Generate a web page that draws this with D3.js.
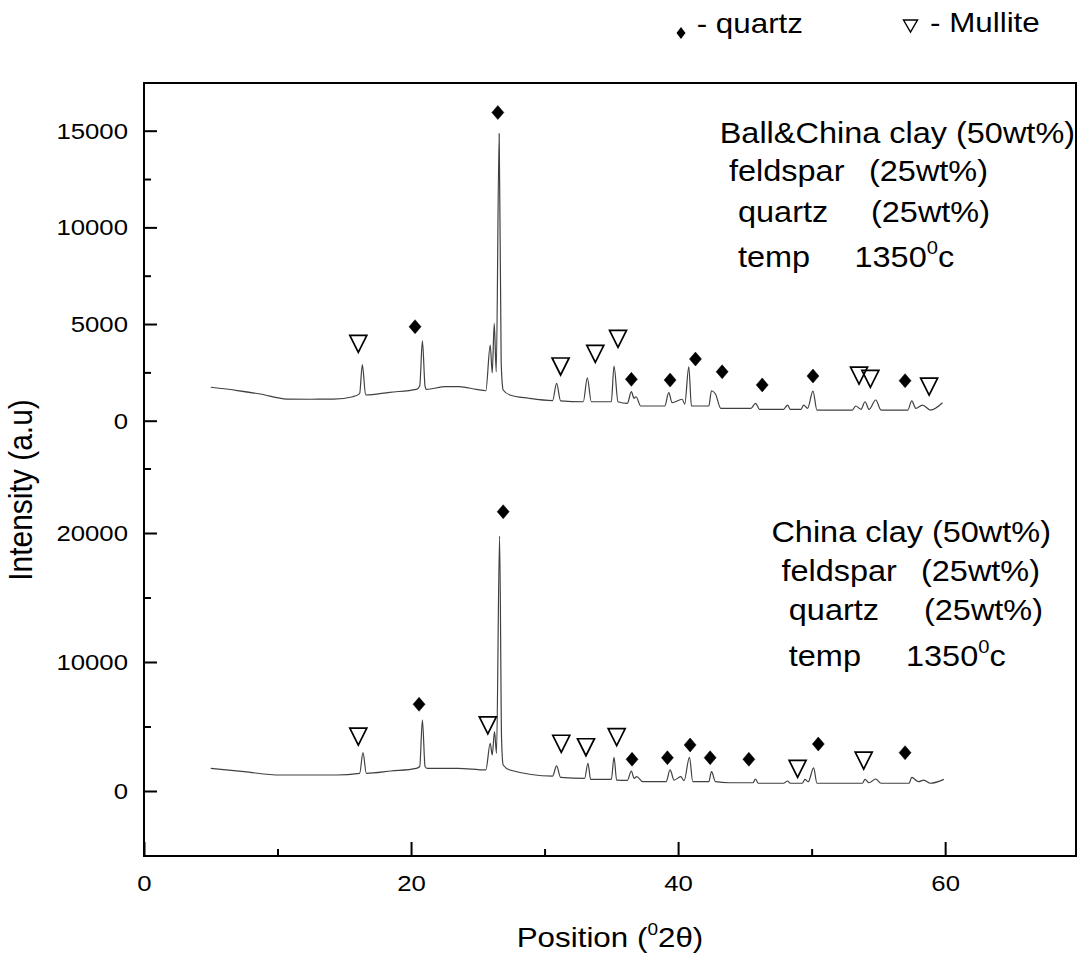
<!DOCTYPE html>
<html>
<head>
<meta charset="utf-8">
<script src="https://d3js.org/d3.v7.min.js"></script>
<style>
    body { margin: 0; background: #fff; }
    text { font-family: "Liberation Sans", Arial, sans-serif; fill: #000; }
</style>
</head>
<body>
<div id="cont"></div>
<script>
// ---- data: [2theta, intensity] ----
var topPattern = [
    [5.0,1730],[7.0,1560],[8.7,1380],[10.7,1120],[12.5,1110],[14.2,1120],[15.65,1240],
    [16.15,1400],[16.35,2900],[16.6,1330],[18.4,1470],[20.4,1620],[20.65,1800],[20.85,4130],
    [21.05,1780],[21.15,1620],[22.6,1760],[23.6,1760],[24.9,1620],[25.6,1550],[25.93,3910],
    [26.08,2470],[26.23,5030],[26.38,2530],[26.6,14850],[26.75,3000],[26.9,1590],[27.4,1330],
    [28.8,1160],[30.6,1040],[30.9,1930],[31.2,1030],[32.9,980],[33.2,2220],[33.5,980],
    [35.0,980],[35.2,2830],[35.5,980],[36.2,900],[36.5,1500],[36.7,1160],[36.85,1240],
    [37.2,760],[39.0,760],[39.3,1450],[39.55,930],[40.3,1110],[40.5,860],[40.8,2790],
    [41.0,760],[42.3,760],[42.5,1550],[42.8,1380],[43.2,640],[45.45,640],[45.8,900],
    [46.1,590],[47.9,590],[48.2,810],[48.4,590],[49.2,590],[49.4,810],[49.7,640],[50.1,1530],
    [50.4,550],[53.05,550],[53.3,760],[53.7,590],[54.0,980],[54.3,590],[54.8,1070],[55.2,550],
    [57.2,550],[57.5,1030],[57.8,640],[58.3,810],[58.9,550],[59.8,930]
];
var bottomPattern = [
    [5.0,1760],[7.5,1500],[10.2,1240],[14.4,1240],[16.15,1370],[16.4,2970],[16.65,1370],
    [18.5,1550],[20.4,1760],[20.65,1900],[20.85,5500],[21.05,1900],[21.2,1760],[23.5,1760],
    [25.6,1630],[25.93,3700],[26.08,2790],[26.25,4600],[26.4,2920],[26.63,19760],[26.78,4000],
    [26.9,2015],[27.4,1630],[30.6,1160],[30.9,1940],[31.2,1060],[33.0,985],[33.25,2150],
    [33.45,900],[35.0,900],[35.2,2610],[35.4,850],[36.2,830],[36.5,1550],[36.7,980],[36.9,1110],
    [37.35,720],[39.1,720],[39.4,1630],[39.7,850],[40.2,1110],[40.45,800],[40.85,2610],
    [41.1,720],[42.3,720],[42.5,1500],[42.8,720],[43.8,640],[45.6,640],[45.8,930],[46.0,600],
    [47.9,600],[48.2,775],[48.4,600],[49.3,600],[49.5,900],[49.75,720],[50.15,1800],[50.4,600],
    [53.8,600],[54.0,900],[54.3,640],[54.8,930],[55.2,600],[57.3,600],[57.5,1060],[58.0,720],
    [58.4,850],[58.9,600],[59.9,900]
];

var quartzTop = [[20.3,4860],[26.5,15940],[36.5,2140],[39.4,2100],[41.3,3190],[43.3,2530],[46.3,1850],[50.1,2310],[57.0,2070]];
var mulliteTop = [[16.05,4000],[31.2,2830],[33.8,3480],[35.5,4260],[53.55,2360],[54.4,2190],[58.8,1790]];
var quartzBottom = [[20.6,6720],[26.9,21650],[36.55,2460],[39.2,2580],[40.9,3570],[42.4,2580],[45.3,2460],[50.5,3640],[57.0,2970]];
var mulliteBottom = [[16.05,4260],[25.75,5120],[31.25,3700],[33.1,3430],[35.4,4210],[48.95,1760],[53.9,2400]];

var xTicks = [0, 20, 40, 60];
var xMinor = [10, 30, 50];
var topTicks = [0, 5000, 10000, 15000];
var topMinor = [2500, 7500, 12500];
var bottomTicks = [0, 10000, 20000];
var bottomMinor = [5000, 15000, 25000];

var topLabel = ["Ball&China clay (50wt%)", "feldspar", "(25wt%)", "quartz", "(25wt%)", "temp", "1350"];
var bottomLabel = ["China clay (50wt%)", "feldspar", "(25wt%)", "quartz", "(25wt%)", "temp", "1350"];

// ---- layout ----
var svg = d3.select("#cont").append("svg")
    .attr("width", 1079)
    .attr("height", 953);

var left = 144, right = 1076, frameTop = 83, frameBottom = 856;
var stretch = 1.12;

var x = d3.scaleLinear().domain([0, 69.8]).range([left, right]);
var yTop = d3.scaleLinear().domain([0, 15000]).range([420.7, 130.7]);
var yBot = d3.scaleLinear().domain([0, 20000]).range([791, 533]);

// frame
svg.append("rect")
    .attr("x", left).attr("y", frameTop)
    .attr("width", right - left).attr("height", frameBottom - frameTop)
    .attr("fill", "none").attr("stroke", "#000").attr("stroke-width", 2);

function styleAxis(g) {
    g.select(".domain").remove();
    g.selectAll("line").attr("stroke", "#000").attr("stroke-width", 2);
    g.selectAll("text")
        .attr("font-size", 23)
        .attr("fill", "#000")
        .attr("font-family", "Liberation Sans, Arial, sans-serif")
        .each(function () {
            var t = d3.select(this);
            var tx = +t.attr("x") || 0, ty = +t.attr("y") || 0;
            t.attr("x", 0).attr("y", 0)
             .attr("transform", "translate(" + tx + "," + ty + ") scale(" + stretch + ",1)");
        });
}

// x axis
svg.append("g").attr("transform", "translate(0," + frameBottom + ")")
    .call(d3.axisBottom(x).tickValues(xTicks).tickSize(-14).tickPadding(18.5).tickFormat(d3.format("d")))
    .call(styleAxis);
svg.append("g").attr("transform", "translate(0," + frameBottom + ")")
    .call(d3.axisBottom(x).tickValues(xMinor).tickSize(-7).tickFormat(""))
    .call(styleAxis);

// y axes
svg.append("g").attr("transform", "translate(" + left + ",0)")
    .call(d3.axisLeft(yTop).tickValues(topTicks).tickSize(-13).tickPadding(16).tickFormat(d3.format("d")))
    .call(styleAxis);
svg.append("g").attr("transform", "translate(" + left + ",0)")
    .call(d3.axisLeft(yTop).tickValues(topMinor).tickSize(-7).tickFormat(""))
    .call(styleAxis);
svg.append("g").attr("transform", "translate(" + left + ",0)")
    .call(d3.axisLeft(yBot).tickValues(bottomTicks).tickSize(-13).tickPadding(16).tickFormat(d3.format("d")))
    .call(styleAxis);
svg.append("g").attr("transform", "translate(" + left + ",0)")
    .call(d3.axisLeft(yBot).tickValues(bottomMinor).tickSize(-7).tickFormat(""))
    .call(styleAxis);

// patterns
function drawPattern(data, y) {
    var line = d3.line()
        .curve(d3.curveMonotoneX)
        .x(function (d) { return x(d[0]); })
        .y(function (d) { return y(d[1]); });
    svg.append("path").datum(data)
        .attr("d", line)
        .attr("fill", "none")
        .attr("stroke", "#404040")
        .attr("stroke-width", 1.2)
        .attr("stroke-linejoin", "round");
}
drawPattern(topPattern, yTop);
drawPattern(bottomPattern, yBot);

var diamondPath = "M0,-7L6,0L0,7L-6,0Z";
var trianglePath = "M-8.5,-8L8.5,-8L0,9Z";

function drawMarks(data, y, path, filled) {
    svg.append("g").selectAll("path").data(data).enter().append("path")
        .attr("d", path)
        .attr("transform", function (d) { return "translate(" + x(d[0]) + "," + y(d[1]) + ")"; })
        .attr("fill", filled ? "#000" : "none")
        .attr("stroke", "#000")
        .attr("stroke-width", filled ? 0.5 : 1.7);
}
drawMarks(quartzTop, yTop, diamondPath, true);
drawMarks(mulliteTop, yTop, trianglePath, false);
drawMarks(quartzBottom, yBot, diamondPath, true);
drawMarks(mulliteBottom, yBot, trianglePath, false);

// text helper (text in the picture is a bit wide)
function stext(px, py, size) {
    return svg.append("text")
        .attr("transform", "translate(" + px + "," + py + ") scale(" + stretch + ",1)")
        .attr("font-size", size);
}

function annotation(lab, pos) {
    for (var i = 0; i < 6; i++) {
        stext(pos[i][0], pos[i][1], 29).text(lab[i]);
    }
    var t = stext(pos[6][0], pos[6][1], 29);
    t.append("tspan").text(lab[6]);
    t.append("tspan").attr("font-size", 18).attr("dy", -13).text("0");
    t.append("tspan").attr("font-size", 29).attr("dy", 13).text("c");
}
annotation(topLabel, [[719.7,143.3],[729,181],[869,181],[738,221.7],[871,221.7],[738,267],[854.5,267]]);
annotation(bottomLabel, [[771.4,541.7],[781.4,580.7],[921,580.7],[788.8,619.5],[924,619.5],[788.8,666],[906,666]]);

// legend
svg.append("path").attr("d", "M0,-6L4.5,0L0,6L-4.5,0Z").attr("transform", "translate(681,33)").attr("fill", "#000");
stext(696.7, 33.3, 28).text("- quartz");
svg.append("path").attr("d", "M-7,-6L7,-6L0,6Z").attr("transform", "translate(910.5,26)")
    .attr("fill", "none").attr("stroke", "#000").attr("stroke-width", 1.4);
stext(930, 32.3, 28).text("- Mullite");

// axis titles
var xt = stext(610, 947, 28).attr("text-anchor", "middle");
xt.append("tspan").text("Position (");
xt.append("tspan").attr("font-size", 17).attr("dy", -12).text("0");
xt.append("tspan").attr("font-size", 28).attr("dy", 12).text("2θ)");

svg.append("text")
    .attr("transform", "translate(32,490) rotate(-90) scale(1," + stretch + ")")
    .attr("text-anchor", "middle")
    .attr("font-size", 30)
    .text("Intensity (a.u)");
</script>
</body>
</html>
